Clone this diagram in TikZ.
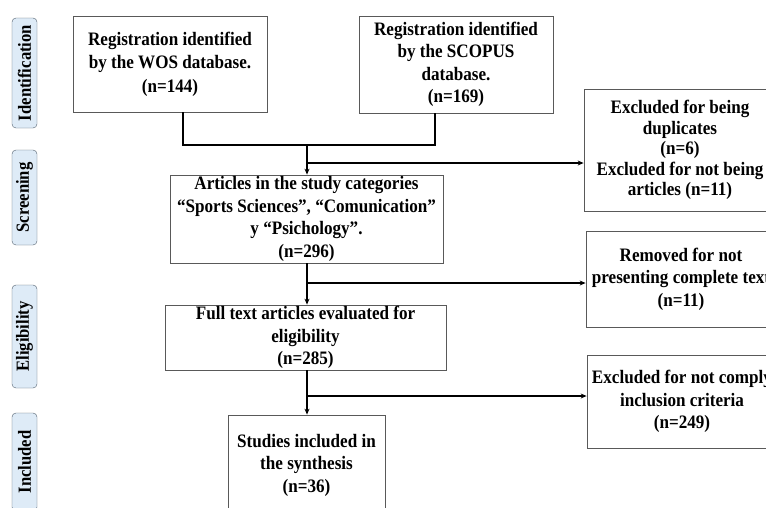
\documentclass[tikz,border=0pt]{standalone}
\usepackage{fontspec}
\setmainfont{Liberation Serif}[FakeStretch=0.9]
\usetikzlibrary{arrows.meta}
\definecolor{stagefill}{HTML}{DEEBF7}
\definecolor{stageline}{HTML}{4F5D6B}
\definecolor{boxline}{HTML}{595959}

\begin{document}
\begin{tikzpicture}[x=1pt, y=-1pt,
  box/.style={draw=boxline, line width=0.8pt, align=center, inner sep=0pt,
    font=\fontsize{19}{22.5}\selectfont\bfseries},
  stage/.style={draw=stageline, fill=stagefill, rounded corners=4pt, rotate=90,
    minimum height=25, inner sep=0pt, font=\fontsize{18.5}{18}\selectfont\bfseries},
  link/.style={line width=1.6pt},
  arrow/.style={link, -{Stealth[length=6pt,width=5pt]}}]
  \clip (0,0) rectangle (766,507);
  \useasboundingbox (0,0) rectangle (766,507);

  \node[stage, minimum width=110] (ident) at (24.5,73) {Identification};
  \node[stage, minimum width=95] (screen) at (24.5,197.5) {Screening};
  \node[stage, minimum width=103] (elig) at (24.5,336.5) {Eligibility};
  \node[stage, minimum width=98] (incl) at (24.5,462) {Included};

  \node[box, minimum width=194, minimum height=96,
    font=\fontsize{19}{23.5}\selectfont\bfseries] (wos) at (170,64)
    {Registration identified\\by the WOS database.\\(n=144)};
  \node[box, minimum width=194, minimum height=97] (scopus) at (456,64.5)
    {Registration identified\\by the SCOPUS\\database.\\(n=169)};
  \node[box, minimum width=192, minimum height=122,
    font=\fontsize{19}{20.5}\selectfont\bfseries] (excl1) at (680,150)
    {Excluded for being\\duplicates\\(n=6)\\Excluded for not being\\articles (n=11)};
  \node[box, minimum width=273, minimum height=88] (articles) at (306.5,219)
    {Articles in the study categories\\“Sports Sciences”, “Comunication”\\y “Psichology”.\\(n=296)};
  \node[box, minimum width=190, minimum height=96] (removed) at (681,279)
    {Removed for not\\presenting complete text\\(n=11)};
  \node[box, minimum width=281, minimum height=65] (fulltext) at (305.5,337.5)
    {Full text articles evaluated for\\eligibility\\(n=285)};
  \node[box, minimum width=190, minimum height=93] (excl3) at (682,401.5)
    {Excluded for not comply\\inclusion criteria\\(n=249)};
  \node[box, minimum width=157, minimum height=100] (studies) at (306.5,465)
    {Studies included in\\the synthesis\\(n=36)};

  \coordinate (join) at (307,145);
  \coordinate (cut1) at (307,163);
  \coordinate (cut2) at (307,283);
  \coordinate (cut3) at (307,396);

  \draw[link] ([xshift=13pt]wos.south) |- (join) -| ([xshift=-21pt]scopus.south);
  \draw[arrow] (join) -- (join |- articles.north);
  \draw[arrow] (cut1) -- (cut1 -| excl1.west);
  \draw[arrow] (articles.south -| join) -- (join |- fulltext.north);
  \draw[arrow] (cut2) -- (cut2 -| removed.west);
  \draw[arrow] (fulltext.south -| join) -- (join |- studies.north);
  \draw[arrow] (cut3) -- (cut3 -| excl3.west);
\end{tikzpicture}
\end{document}
